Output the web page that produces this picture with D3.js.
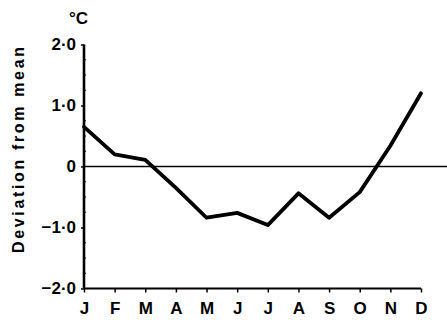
<!DOCTYPE html>
<html>
<head>
<meta charset="utf-8">
<script src="https://cdn.jsdelivr.net/npm/d3@7"></script>
<style>
  body { margin: 0; background: #fff; }
  text { font-family: "Liberation Sans", Arial, sans-serif; font-weight: bold; fill: #000; }
</style>
</head>
<body>
<svg></svg>
<script>
const months = ["J", "F", "M", "A", "M", "J", "J", "A", "S", "O", "N", "D"]
const deviation = [0.65, 0.20, 0.11, -0.35, -0.84, -0.76, -0.96, -0.44, -0.84, -0.42, 0.34, 1.20]
const yTicks = [2, 1, 0, -1, -2]
const yTickLabels = ["2·0", "1·0", "0", "−1·0", "−2·0"]

const width = 447, height = 320
const svg = d3.select("svg").attr("width", width).attr("height", height)

const x = d3.scalePoint().domain(d3.range(months.length)).range([84, 421])
const y = d3.scaleLinear().domain([-2, 2]).range([288.5, 44.5])

// zero reference line runs across the whole plot
svg.append("line").attr("x1", 84).attr("x2", width).attr("y1", y(0)).attr("y2", y(0))
  .style("stroke", "#000").style("stroke-width", 1.6)

// x axis
const xAxis = svg.append("g").attr("transform", `translate(0,${y(-2)})`)
  .call(d3.axisBottom(x).tickSize(4).tickFormat(i => months[i]).tickPadding(9))
xAxis.select(".domain").attr("d", `M${x(0)},0H${x(11)}`).style("stroke-width", 2)
xAxis.selectAll(".tick line").style("stroke-width", 1.5)
xAxis.selectAll("text").style("font-size", "17px").style("font-family", "Liberation Sans, Arial, sans-serif").style("font-weight", "bold")

// y axis
const yAxis = svg.append("g").attr("transform", `translate(84,0)`)
  .call(d3.axisLeft(y).tickValues(yTicks).tickSize(3).tickPadding(5).tickFormat((d, i) => yTickLabels[i]))
yAxis.select(".domain").attr("d", `M0,${y(2)}V${y(-2)}`).style("stroke-width", 2.6)
yAxis.selectAll(".tick line").style("stroke-width", 1.5)
yAxis.selectAll("text").style("font-size", "17px").style("font-family", "Liberation Sans, Arial, sans-serif").style("font-weight", "bold")

// minor ticks on the inside of the y axis
yAxis.append("g").selectAll("line").data(d3.range(-2, 2.01, 0.25).filter(v => Math.abs(v % 1) > 0.01))
  .join("line").attr("x1", 0).attr("x2", 2).attr("y1", d => y(d)).attr("y2", d => y(d))
  .style("stroke", "#000").style("stroke-width", 1)

// units and axis title
svg.append("text").text("°C").attr("x", 69).attr("y", 24).style("font-size", "17px")
svg.append("text").text("Deviation from mean")
  .attr("transform", "translate(24,150) rotate(-90)")
  .attr("text-anchor", "middle").attr("textLength", 206).attr("lengthAdjust", "spacing")
  .style("font-size", "16px")

// the data line
const line = d3.line().x((d, i) => x(i)).y(d => y(d))
svg.append("path").datum(deviation).attr("d", line)
  .style("fill", "none").style("stroke", "#000").style("stroke-width", 3.8)
  .style("stroke-linejoin", "round").style("stroke-linecap", "round")
</script>
</body>
</html>
